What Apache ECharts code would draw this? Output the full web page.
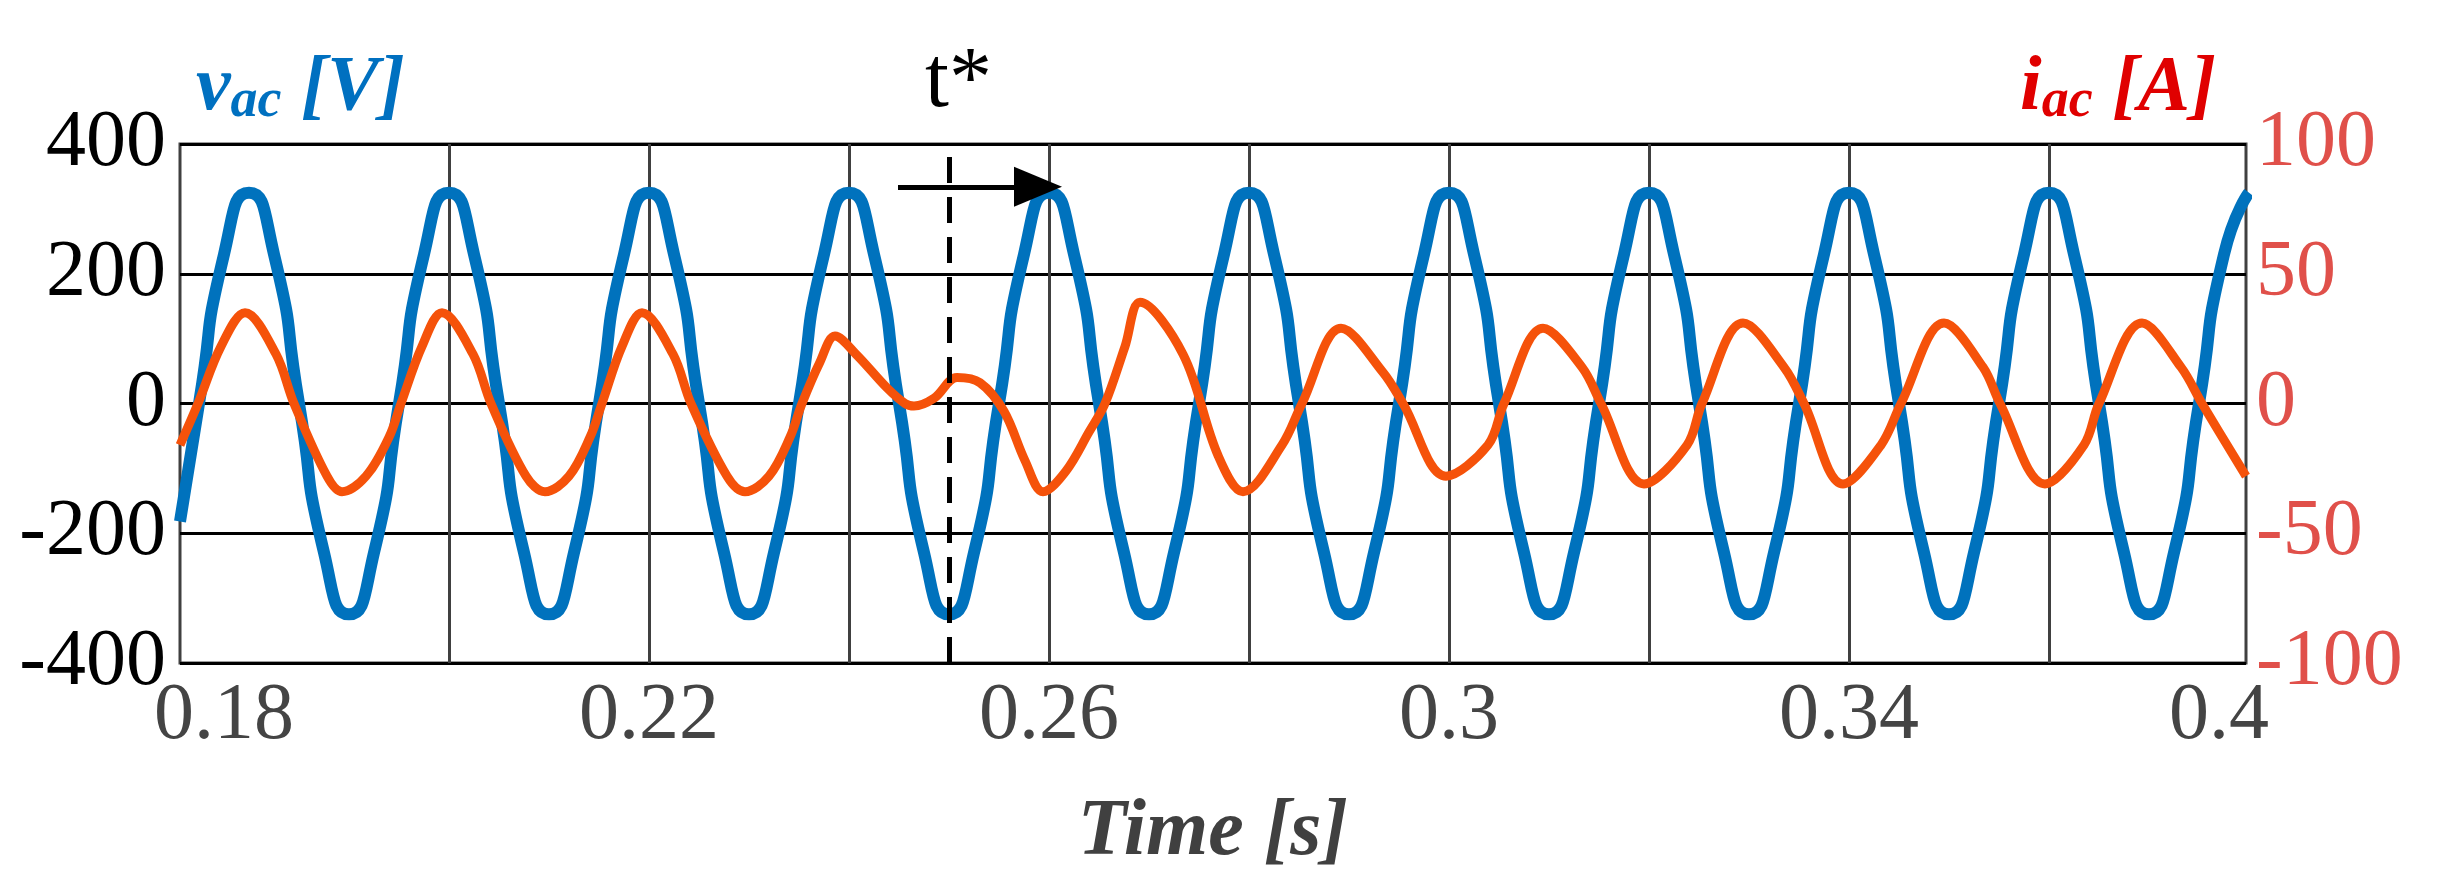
<!DOCTYPE html>
<html><head><meta charset="utf-8">
<script src="https://cdn.jsdelivr.net/npm/echarts@6/dist/echarts.min.js"></script>
<style>html,body{margin:0;background:#fff}#c{width:2440px;height:878px}</style>
</head><body><div id="c"></div>
<script>
// voltage samples, eighth of a cycle apart
var vTime = [0.1731,0.175,0.1775,0.18,0.1825,0.185,0.1875,0.19,0.1925,0.195,0.1975,0.2,0.2025,0.205,0.2075,0.21,0.2125,0.215,0.2175,0.22,0.2225,0.225,0.2275,0.23,0.2325,0.235,0.2375,0.24,0.2425,0.245,0.2475,0.25,0.2525,0.255,0.2575,0.26,0.2625,0.265,0.2675,0.27,0.2725,0.275,0.2775,0.28,0.2825,0.285,0.2875,0.29,0.2925,0.295,0.2975,0.3,0.3025,0.305,0.3075,0.31,0.3125,0.315,0.3175,0.32,0.3225,0.325,0.3275,0.33,0.3325,0.335,0.3375,0.34,0.3425,0.345,0.3475,0.35,0.3525,0.355,0.3575,0.36,0.3625,0.365,0.3675,0.37,0.3725,0.375,0.3775,0.38];
var vVal = [-182,0,230,325,230,0,-230,-325,-230,0,230,325,230,0,-230,-325,-230,0,230,325,230,0,-230,-325,-230,0,230,325,230,0,-230,-325,-230,0,230,325,230,0,-230,-325,-230,0,230,325,230,0,-230,-325,-230,0,230,325,230,0,-230,-325,-230,0,230,325,230,0,-230,-325,-230,0,230,325,230,0,-230,-325,-230,0,230,325,230,0,-230,-325,-230,0,230,325];
// current samples
var iTime = [0.1731,0.1749,0.1772,0.1796,0.1827,0.1845,0.1878,0.1893,0.1917,0.194,0.1952,0.1973,0.1993,0.2024,0.2042,0.2077,0.2096,0.212,0.2141,0.2153,0.2173,0.2193,0.2224,0.2242,0.2278,0.2296,0.232,0.2341,0.2353,0.2371,0.2386,0.2407,0.2438,0.2456,0.2465,0.2485,0.2508,0.2531,0.2555,0.2576,0.2594,0.2617,0.264,0.2656,0.2676,0.2691,0.2734,0.2769,0.2794,0.2833,0.2853,0.2892,0.2934,0.2954,0.2997,0.3039,0.3055,0.3094,0.3133,0.3152,0.3195,0.3238,0.3253,0.3294,0.3335,0.3355,0.3394,0.3432,0.3452,0.3495,0.3534,0.3551,0.3596,0.3635,0.365,0.3693,0.3732,0.3753,0.3797];
var iVal = [-16,0,22,35,19,0,-28,-34,-28,-13,0,22,35,19,0,-28,-34,-28,-13,0,22,35,19,0,-28,-34,-28,-13,0,16,26,19,6,0,-1,2,10,8,-3,-22,-34,-26,-11,0,22,39,19,-20,-34,-16,0,29,12,0,-28,-16,0,29,14,0,-31,-16,0,31,14,0,-31,-16,0,31,14,0,-31,-16,0,31,14,0,-28];
var gridTimes = [0.2,0.22,0.24,0.26,0.28,0.3,0.32,0.34,0.36,0.38];
var xLabelPos = [0.1775,0.22,0.26,0.3,0.34,0.377];
var xLabelText = ['0.18','0.22','0.26','0.3','0.34','0.4'];
var tStar = 0.25;

var chart = echarts.init(document.getElementById('c'));
var font = 'Liberation Serif';
function zip(a,b){return a.map(function(t,k){return [t,b[k]]})}

var option = {
  animation:false,
  grid:{left:180,right:194,top:144,bottom:209,show:true,borderColor:'#404040',borderWidth:3},
  xAxis:{
    type:'value',min:0.1731,max:0.3797,
    axisLine:{show:false},
    axisTick:{show:false,customValues:gridTimes},
    splitLine:{show:true,lineStyle:{color:'#404040',width:3}},
    axisLabel:{customValues:xLabelPos,color:'#444',fontFamily:font,fontSize:80,margin:14,
      formatter:function(v){var k=xLabelPos.indexOf(v);return k<0?'':xLabelText[k]}},
    name:'Time [s]',nameLocation:'middle',nameGap:130,
    nameTextStyle:{fontFamily:font,fontSize:80,fontWeight:'bold',fontStyle:'italic',color:'#404040'}
  },
  yAxis:[{
    type:'value',min:-400,max:400,interval:200,
    axisLine:{show:false},axisTick:{show:false},
    splitLine:{lineStyle:{color:'#000',width:3}},
    axisLabel:{color:'#000',fontFamily:font,fontSize:80,margin:14}
  },{
    type:'value',min:-100,max:100,interval:50,position:'right',
    axisLine:{show:false},axisTick:{show:false},splitLine:{show:false},
    axisLabel:{color:'#E0504A',fontFamily:font,fontSize:80,margin:10}
  }],
  graphic:[
    {type:'text',left:196,top:50,style:{rich:{
      m:{fontFamily:font,fontSize:78,fontStyle:'italic',fontWeight:'bold',fill:'#0070C0'},
      s:{fontFamily:font,fontSize:54,fontStyle:'italic',fontWeight:'bold',fill:'#0070C0',padding:[26,0,0,0]}},
      text:'{m|v}{s|ac}{m| [V]}'}},
    {type:'text',left:2020,top:50,style:{rich:{
      m:{fontFamily:font,fontSize:78,fontStyle:'italic',fontWeight:'bold',fill:'#E00000'},
      s:{fontFamily:font,fontSize:54,fontStyle:'italic',fontWeight:'bold',fill:'#E00000',padding:[26,0,0,0]}},
      text:'{m|i}{s|ac}{m| [A]}'}},
    {type:'text',left:925,top:40,style:{text:'t*',fontFamily:font,fontSize:86,fill:'#000'}}
  ],
  series:[{
    type:'line',yAxisIndex:0,data:zip(vTime,vVal),smooth:0.65,showSymbol:false,
    lineStyle:{color:'#0072BD',width:12},z:2,
    markLine:{silent:true,symbol:'none',label:{show:false},
      data:[{xAxis:tStar}],
      lineStyle:{color:'#000',width:5,type:[26,14]}}
  },{
    type:'line',yAxisIndex:1,data:zip(iTime,iVal),smooth:0.35,showSymbol:false,
    lineStyle:{color:'#F5520A',width:9},z:3,
    markLine:{silent:true,symbol:['none','triangle'],symbolSize:[40,48],symbolRotate:-90,label:{show:false},
      data:[[{coord:[0.2449,83.5]},{coord:[0.2589,83.5]}]],
      lineStyle:{color:'#000',width:5,type:'solid'}}
  }]
};
chart.setOption(option);
</script></body></html>
